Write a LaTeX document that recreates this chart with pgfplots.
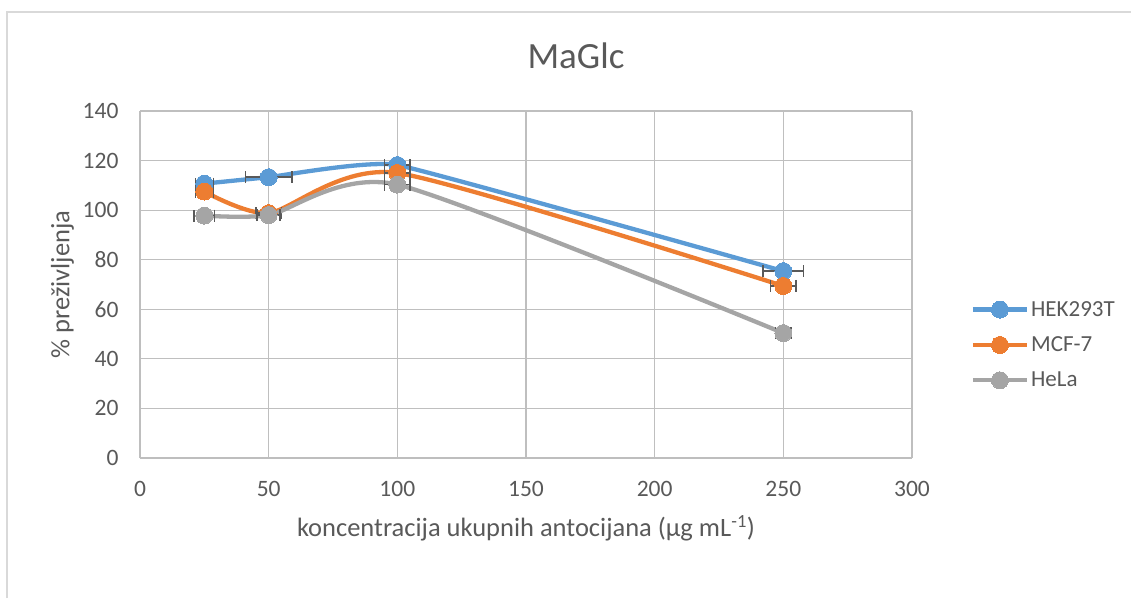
\documentclass[border=0pt]{standalone}
\usepackage{pgfplots}
\pgfplotsset{compat=1.18}
\usepackage{fontspec}
\setmainfont{Carlito}
\definecolor{cblue}{HTML}{5B9BD5}
\definecolor{corange}{HTML}{ED7D31}
\definecolor{cgray}{HTML}{A5A5A5}
\definecolor{txt}{HTML}{595959}
\definecolor{grid}{HTML}{D9D9D9}
\definecolor{errc}{HTML}{595959}
\begin{document}
\begin{tikzpicture}
\path[use as bounding box] (0pt,0pt) rectangle (1131pt,598pt);
\draw[grid, line width=1.5pt] (7pt,0pt) -- (7pt,586pt) -- (1131pt,586pt);
\node[txt, font=\fontsize{37}{44}\selectfont] at (576pt,542pt) {MaGlc};
\begin{axis}[
  at={(140pt,140pt)}, anchor=south west,
  scale only axis, width=772pt, height=347pt,
  xmin=0, xmax=300, ymin=0, ymax=140,
  xtick={0,50,...,300}, ytick={0,20,...,140},
  grid=major,
  major grid style={grid, line width=1.1pt},
  axis line style={draw=none},
  axis x line*=bottom, axis y line*=left,
  tick style={draw=none},
  ticklabel style={txt, font=\fontsize{23.5}{28}\selectfont},
  /pgf/number format/assume math mode=true,
  xticklabel style={yshift=-20pt},
  yticklabel style={xshift=-18pt},
  xlabel={koncentracija ukupnih antocijana (µg mL\textsuperscript{-1})},
  ylabel={\% preživljenja},
  label style={txt, font=\fontsize{26.5}{32}\selectfont},
  xlabel style={yshift=-12pt},
  ylabel style={yshift=2pt},
  legend style={at={(1.072,0.326)}, anchor=west, draw=none, fill=none,
    font=\fontsize{23}{27}\selectfont, text=txt, row sep=15pt,
    /tikz/every even column/.append style={column sep=2pt}},
  legend cell align=left,
  legend image code/.code={\draw[mark repeat=2, mark phase=2] plot coordinates {(0pt,0pt) (27pt,0pt) (54pt,0pt)};},
  error bars/error bar style={errc, line width=1.6pt},
  error bars/error mark options={errc, line width=1.6pt, mark size=6pt, rotate=90},
]
\draw[grid!70!gray, line width=1.5pt] (axis cs:0,0) -- (axis cs:300,0);
\draw[grid!70!gray, line width=1.5pt] (axis cs:0,0) -- (axis cs:0,140);
\addplot[cblue, line width=4.3pt, smooth, tension=0.2, mark=*, mark size=8.5pt, mark options={solid, fill=cblue, draw=cblue, line width=0pt},
  error bars/.cd, x dir=both, x explicit]
  coordinates {(25,110.7) +- (3.5,0) (50,113.3) +- (9,0) (100,118.2) +- (5,0) (250,75.4) +- (7.8,0)};
\addlegendentry{HEK293T}
\addplot[corange, line width=4.3pt, smooth, tension=0.4, mark=*, mark size=8.5pt, mark options={solid, fill=corange, draw=corange, line width=0pt},
  error bars/.cd, x dir=both, x explicit]
  coordinates {(25,107.5) +- (3.5,0) (50,98.8) +- (5,0) (100,115) +- (5,0) (250,69.4) +- (5,0)};
\addlegendentry{MCF-7}
\addplot[cgray, line width=4.3pt, smooth, tension=0.4, mark=*, mark size=8.5pt, mark options={solid, fill=cgray, draw=cgray, line width=0pt},
  error bars/.cd, x dir=both, x explicit]
  coordinates {(25,97.8) +- (4,0) (50,98) +- (4.5,0) (100,110.3) +- (5,0) (250,50.4) +- (3,0)};
\addlegendentry{HeLa}
\end{axis}
\end{tikzpicture}
\end{document}
